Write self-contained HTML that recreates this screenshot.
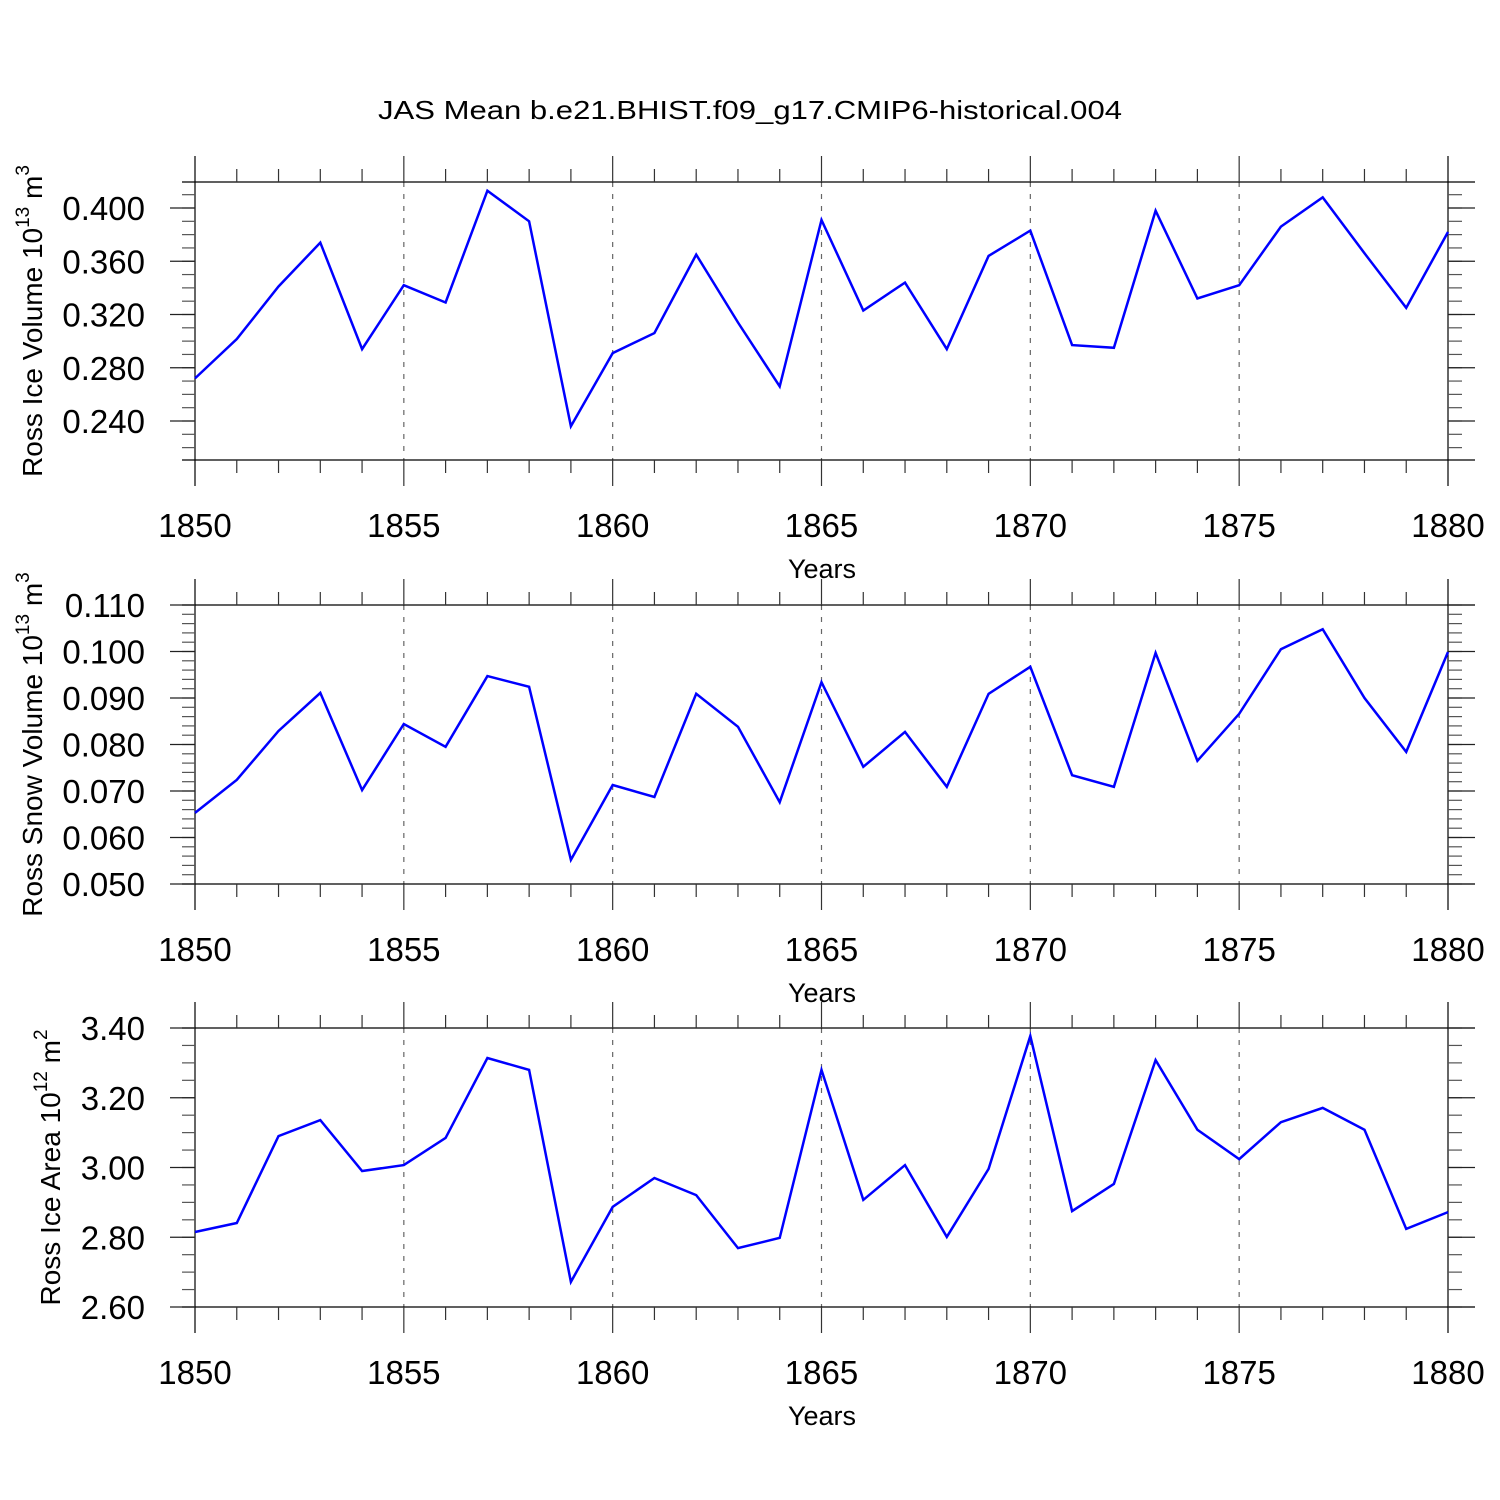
<!DOCTYPE html>
<html><head><meta charset="utf-8"><style>body{margin:0;background:#fff}svg{display:block}text{font-family:"Liberation Sans",sans-serif;fill:#000}</style></head>
<body>
<svg id="chart" width="1500" height="1500" viewBox="0 0 1500 1500" xmlns="http://www.w3.org/2000/svg">
<text x="750" y="119" text-anchor="middle" font-size="26" textLength="744" lengthAdjust="spacingAndGlyphs">JAS Mean b.e21.BHIST.f09_g17.CMIP6-historical.004</text>
</svg>
<script>
const years = [1850,1851,1852,1853,1854,1855,1856,1857,1858,1859,1860,1861,1862,1863,1864,1865,1866,1867,1868,1869,1870,1871,1872,1873,1874,1875,1876,1877,1878,1879,1880];
const iceVolume = [0.272,0.3016,0.341,0.374,0.294,0.342,0.329,0.413,0.390,0.236,0.291,0.306,0.365,0.314,0.266,0.391,0.323,0.344,0.294,0.364,0.383,0.297,0.295,0.398,0.332,0.342,0.386,0.408,0.366,0.325,0.382];
const snowVolume = [0.0653,0.0724,0.0829,0.0911,0.0702,0.0844,0.0795,0.0947,0.0924,0.0552,0.0713,0.0687,0.0909,0.0838,0.0676,0.0934,0.0752,0.0827,0.0709,0.0909,0.0967,0.0734,0.0709,0.0997,0.0765,0.0866,0.1005,0.1048,0.0900,0.0784,0.0999];
const iceArea = [2.815,2.841,3.090,3.136,2.990,3.007,3.085,3.314,3.280,2.672,2.887,2.970,2.921,2.769,2.798,3.280,2.907,3.007,2.801,2.996,3.377,2.875,2.953,3.308,3.108,3.024,3.130,3.171,3.108,2.824,2.872];
const xTicks = [1850,1855,1860,1865,1870,1875,1880];
const iceVolumeTicks = ["0.240","0.280","0.320","0.360","0.400"];
const snowVolumeTicks = ["0.050","0.060","0.070","0.080","0.090","0.100","0.110"];
const iceAreaTicks = ["2.60","2.80","3.00","3.20","3.40"];

const NS="http://www.w3.org/2000/svg";
const svg=document.getElementById('chart');
function mk(tag,attrs,parent){const e=document.createElementNS(NS,tag);for(const k in attrs)e.setAttribute(k,attrs[k]);(parent||svg).appendChild(e);return e;}
const X0=195,X1=1448;
const xs=v=>X0+(v-1850)/30*(X1-X0);

const panels=[
 {name:'ice-volume',top:182,bot:460,vmin:0.24-0.04*39/53.25,vmax:0.40+0.04*26/53.25,data:iceVolume,ticks:iceVolumeTicks,minor:0.01,title:'Ross Ice Volume 10',sup:'13',unit:' m',usup:'3',tx:42},
 {name:'snow-volume',top:605,bot:884,vmin:0.05,vmax:0.11,data:snowVolume,ticks:snowVolumeTicks,minor:0.002,title:'Ross Snow Volume 10',sup:'13',unit:' m',usup:'3',tx:42},
 {name:'ice-area',top:1028,bot:1307,vmin:2.6,vmax:3.4,data:iceArea,ticks:iceAreaTicks,minor:0.05,title:'Ross Ice Area 10',sup:'12',unit:' m',usup:'2',tx:60}
];
panels.forEach(p=>{
 const g=mk('g',{});
 
 
 const ys=v=>p.bot-(v-p.vmin)/(p.vmax-p.vmin)*(p.bot-p.top);
 xTicks.slice(1,-1).forEach(t=>{const l=mk('line',{x1:xs(t),x2:xs(t),y1:p.top,y2:p.bot,stroke:'#666','stroke-width':1.2,'stroke-dasharray':'5,7'},g);
  });
 mk('line',{x1:182,x2:1475,y1:p.top,y2:p.top,stroke:'#000','stroke-width':1.2},g);
 mk('line',{x1:182,x2:1475,y1:p.bot,y2:p.bot,stroke:'#000','stroke-width':1.2},g);
 mk('line',{x1:X0,x2:X0,y1:p.top-26,y2:p.bot+26,stroke:'#000','stroke-width':1.2},g);
 mk('line',{x1:X1,x2:X1,y1:p.top-26,y2:p.bot+26,stroke:'#000','stroke-width':1.2},g);
 for(let yr=1851;yr<1880;yr++){const maj=yr%5===0;const L=maj?26:13;const x=xs(yr);
  mk('line',{x1:x,x2:x,y1:p.top-L,y2:p.top,stroke:'#333','stroke-width':1.2},g);
  mk('line',{x1:x,x2:x,y1:p.bot,y2:p.bot+L,stroke:'#333','stroke-width':1.2},g);}
 xTicks.forEach(t=>{const e=mk('text',{x:xs(t),y:p.bot+77,'text-anchor':'middle','font-size':33},g);e.textContent=t;
  });
 const xt=mk('text',{x:822,y:p.bot+118,'text-anchor':'middle','font-size':27},g);xt.textContent='Years';
 
 const n=Math.round((p.vmax-p.vmin)/p.minor)+2;
 const start=Math.ceil(p.vmin/p.minor-1e-6)*p.minor;
 for(let i=0;i<n;i++){const v=start+i*p.minor;if(v>p.vmax+1e-9)break;const y=ys(v);
  mk('line',{x1:182,x2:X0,y1:y,y2:y,stroke:'#555','stroke-width':1.2},g);
  mk('line',{x1:X1,x2:1462,y1:y,y2:y,stroke:'#555','stroke-width':1.2},g);}
 p.ticks.forEach(t=>{const y=ys(parseFloat(t));
  mk('line',{x1:170,x2:X0,y1:y,y2:y,stroke:'#222','stroke-width':1.3},g);
  mk('line',{x1:X1,x2:1475,y1:y,y2:y,stroke:'#222','stroke-width':1.3},g);
  const e=mk('text',{x:145,y:y+12,'text-anchor':'end','font-size':33},g);e.textContent=t;
  });
 const cy=(p.top+p.bot)/2;
 const yt=mk('text',{x:0,y:0,'text-anchor':'middle','font-size':28,transform:`translate(${p.tx},${cy}) rotate(-90)`},g);
 
 const a=document.createElementNS(NS,'tspan');a.textContent=p.title;yt.appendChild(a);
 const b=document.createElementNS(NS,'tspan');b.setAttribute('dy','-13');b.setAttribute('font-size','19');b.textContent=p.sup;yt.appendChild(b);
 const c=document.createElementNS(NS,'tspan');c.setAttribute('dy','13');c.textContent=p.unit;yt.appendChild(c);
 const d=document.createElementNS(NS,'tspan');d.setAttribute('dy','-13');d.setAttribute('font-size','19');d.textContent=p.usup;yt.appendChild(d);
 const pts=p.data.map((v,i)=>xs(years[i]).toFixed(1)+','+ys(v).toFixed(1)).join(' ');
 const pl=mk('polyline',{points:pts,fill:'none',stroke:'#0000ff','stroke-width':2.5,'stroke-linejoin':'miter'},g);
 
 
});
</script>
</body></html>
